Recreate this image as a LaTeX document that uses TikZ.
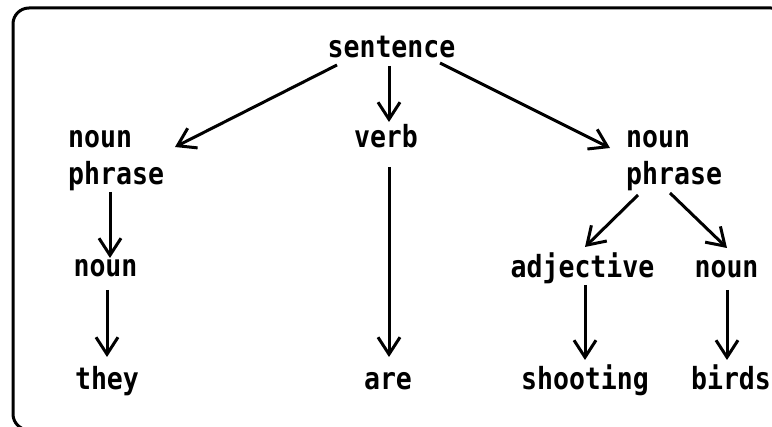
\documentclass[tikz,border=0pt]{standalone}
\usepackage{fontspec}
\usetikzlibrary{arrows.meta}
\newfontfamily\treefont[FakeStretch=0.87]{DejaVu Sans Mono Bold}
\tikzset{
  word/.style={inner sep=0pt, font=\treefont\fontsize{30.5pt}{37pt}\selectfont},
  twoline/.style={word, align=left, anchor=base west},
  link/.style={line width=3pt, -{Straight Barb[length=17pt,width=22pt,line width=3pt]}},
  frame/.style={line width=3pt, rounded corners=16pt}
}
\begin{document}
\begin{tikzpicture}[x=1pt,y=-1pt]
\useasboundingbox (0,0) rectangle (772,427);
\draw[frame] (13,8) rectangle (787,430);

% words of the parse tree (two-line nodes sit on their last baseline)
\node[word, anchor=base] (sent) at (391.5,58) {sentence};
\node[twoline] (np1) at (68,185) {noun\\phrase};
\node[word, anchor=base] (verb) at (386,148) {verb};
\node[twoline] (np2) at (626,185) {noun\\phrase};
\node[word, anchor=base] (noun1) at (105.5,277) {noun};
\node[word, anchor=base] (adj) at (582.5,278) {adjective};
\node[word, anchor=base] (noun2) at (726.5,278) {noun};
\node[word, anchor=base] (they) at (107,390) {they};
\node[word, anchor=base] (are) at (388,390) {are};
\node[word, anchor=base] (shoot) at (585,390) {shooting};
\node[word, anchor=base] (birds) at (731,390) {birds};

% branches
\draw[link] ([xshift=-54.5pt,yshift=-7pt]sent.base) -- ([xshift=107pt,yshift=38pt]np1.base west);
\draw[link] ([xshift=-2.5pt,yshift=-8pt]sent.base) -- ([xshift=3pt,yshift=26pt]verb.base);
\draw[link] ([xshift=48.5pt,yshift=-5pt]sent.base) -- ([xshift=-16pt,yshift=37pt]np2.base west);
\draw[link] ([xshift=42pt,yshift=-7pt]np1.base west) -- ([xshift=4.5pt,yshift=19pt]noun1.base);
\draw[link] ([xshift=1.5pt,yshift=-13pt]noun1.base) -- ([yshift=33pt]they.base);
\draw[link] ([xshift=3pt,yshift=-19pt]verb.base) -- ([xshift=1pt,yshift=33pt]are.base);
\draw[link] ([xshift=12pt,yshift=-10pt]np2.base west) -- ([xshift=2.5pt,yshift=31pt]adj.base);
\draw[link] ([xshift=44pt,yshift=-8pt]np2.base west) -- ([xshift=0.5pt,yshift=30pt]noun2.base);
\draw[link] ([xshift=2.5pt,yshift=-7pt]adj.base) -- ([yshift=30pt]shoot.base);
\draw[link] ([xshift=0.5pt,yshift=-12pt]noun2.base) -- ([xshift=-4pt,yshift=30pt]birds.base);
\end{tikzpicture}
\end{document}
